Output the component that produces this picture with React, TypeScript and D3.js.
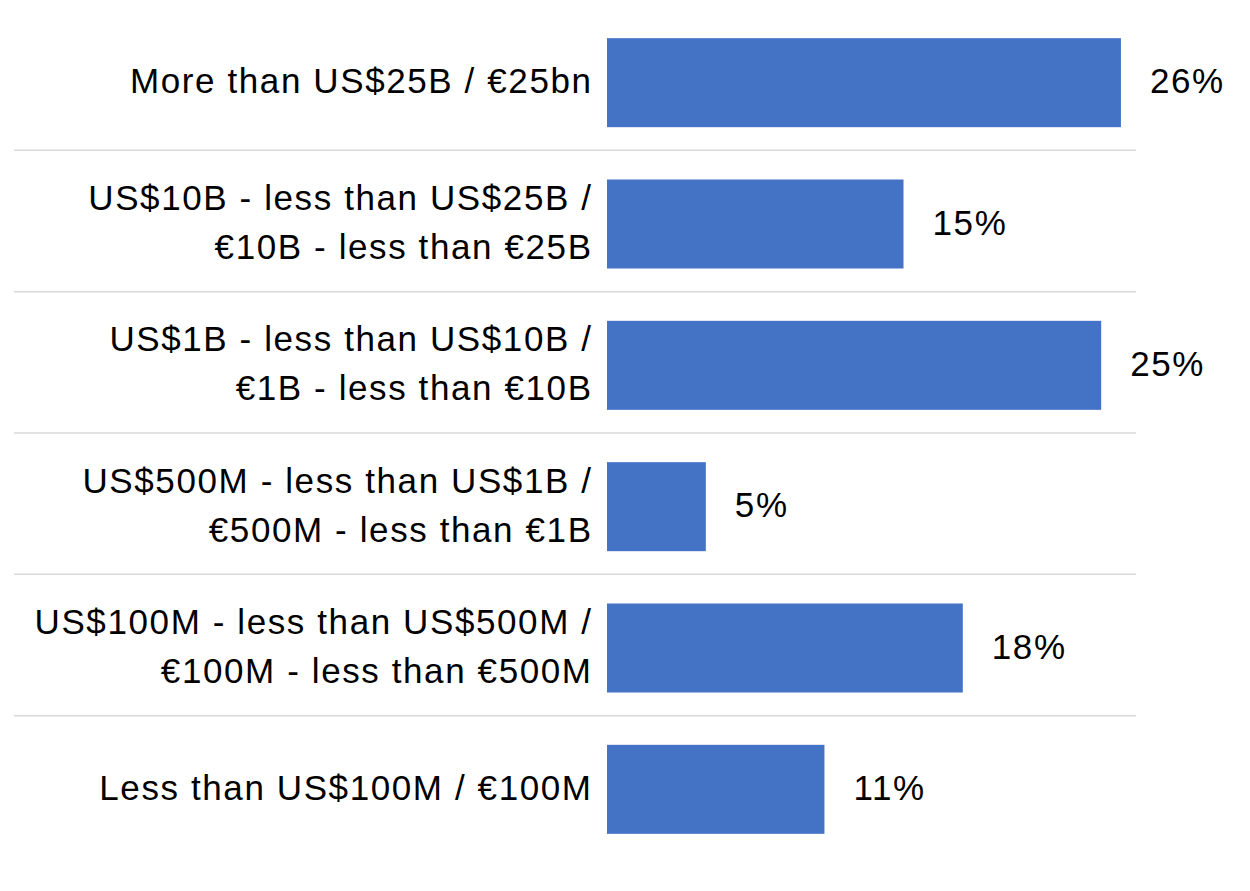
import React from "react";
import * as d3 from "d3";

const categories: string[][] = [
  ["More than US$25B / €25bn"],
  ["US$10B - less than US$25B /", "€10B - less than €25B"],
  ["US$1B - less than US$10B /", "€1B - less than €10B"],
  ["US$500M - less than US$1B /", "€500M - less than €1B"],
  ["US$100M - less than US$500M /", "€100M - less than €500M"],
  ["Less than US$100M / €100M"],
];
const values: number[] = [0.26, 0.15, 0.25, 0.05, 0.18, 0.11];
const valueLabels: string[] = ["26%", "15%", "25%", "5%", "18%", "11%"];

const W = 1250;
const H = 891;
const FONT = "'Liberation Sans', Arial, sans-serif";
const FONT_SIZE = 35;
const SPACING = 1.6;

export default function App() {
  const keys = categories.map((c) => c.join(" "));
  const x = d3.scaleLinear().domain([0, 0.3]).range([607, 1200]);
  const y = d3.scaleBand<string>().domain(keys).range([10, 858]).paddingInner(0).paddingOuter(0);
  const step = y.step();
  const barH = 89;
  const lineGap = 49;

  const separators = keys.slice(1).map((k) => y(k)!);

  return (
    <svg width={W} height={H} style={{ position: "absolute", left: 0, top: 0, background: "#fff" }}>
      {separators.map((sy, i) => (
        <line key={i} x1={14} x2={1136} y1={sy - 1} y2={sy - 1} stroke="#d9d9d9" strokeWidth={1.5} />
      ))}
      {keys.map((k, i) => {
        const cy = y(k)! + step / 2 + 2;
        const lines = categories[i];
        return (
          <g key={k}>
            <rect x={x(0)} y={cy - barH / 2} width={x(values[i]) - x(0)} height={barH} fill="#4472C4" />
            {lines.map((t, j) => (
              <text
                key={j}
                x={591 + SPACING}
                y={cy + (j - (lines.length - 1) / 2) * lineGap}
                dy="0.3em"
                textAnchor="end"
                fontFamily={FONT}
                fontSize={FONT_SIZE}
                letterSpacing={SPACING}
                fill="#000"
              >
                {t}
              </text>
            ))}
            <text
              x={x(values[i]) + 29}
              y={cy}
              dy="0.3em"
              fontFamily={FONT}
              fontSize={FONT_SIZE}
              letterSpacing={SPACING}
              fill="#000"
            >
              {valueLabels[i]}
            </text>
          </g>
        );
      })}
    </svg>
  );
}
